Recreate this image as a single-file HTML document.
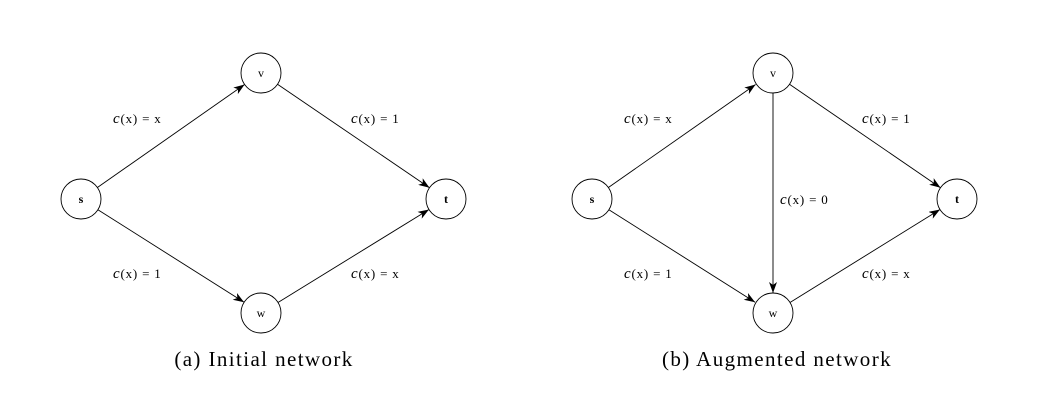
<!DOCTYPE html>
<html><head><style>
body{margin:0;background:#fff;}
svg{display:block;}
text{font-family:"Liberation Serif",serif;fill:#000;}
.l{font-size:13px;letter-spacing:0.8px;}
.n{font-size:12px;}
.c{font-size:21px;letter-spacing:1.4px;}
</style></head><body>
<svg width="1038" height="403" viewBox="0 0 1038 403">
<defs>
<marker id="a" markerWidth="12" markerHeight="8" refX="11" refY="4" orient="auto" markerUnits="userSpaceOnUse">
<path d="M0,0 L11,4 L0,8 L3,4 Z" fill="#000"/>
</marker>
</defs>
<g fill="none" stroke="#000" stroke-width="0.9">
<circle cx="81" cy="199" r="20"/><circle cx="261" cy="73" r="20"/><circle cx="261" cy="313" r="20"/><circle cx="446" cy="199" r="20"/>
<circle cx="592" cy="199" r="20"/><circle cx="773" cy="73" r="20"/><circle cx="773" cy="313" r="20"/><circle cx="957" cy="199" r="20"/>
<g marker-end="url(#a)">
<line x1="97.4" y1="187.5" x2="244.6" y2="84.5"/>
<line x1="277.5" y1="84.3" x2="429.5" y2="187.7"/>
<line x1="97.9" y1="209.7" x2="244.1" y2="302.3"/>
<line x1="278" y1="302.5" x2="429" y2="209.5"/>
<line x1="608.4" y1="187.5" x2="755.6" y2="84.5"/>
<line x1="789.5" y1="84.3" x2="940.5" y2="187.7"/>
<line x1="608.9" y1="209.7" x2="755.1" y2="302.3"/>
<line x1="790" y1="302.5" x2="940" y2="209.5"/>
<line x1="773" y1="93" x2="773" y2="293"/>
</g>
</g>
<g class="n" text-anchor="middle">
<text x="81" y="203" font-weight="bold">s</text><text x="261" y="77">v</text><text x="261" y="317">w</text><text x="446" y="203" font-weight="bold">t</text>
<text x="592" y="203" font-weight="bold">s</text><text x="773" y="77">v</text><text x="773" y="317">w</text><text x="957" y="203" font-weight="bold">t</text>
</g>
<g class="l">
<text x="113" y="123"><tspan font-style="italic" font-size="15">c</tspan>(x) = x</text>
<text x="351" y="123"><tspan font-style="italic" font-size="15">c</tspan>(x) = 1</text>
<text x="113" y="278"><tspan font-style="italic" font-size="15">c</tspan>(x) = 1</text>
<text x="351" y="278"><tspan font-style="italic" font-size="15">c</tspan>(x) = x</text>
<text x="624" y="123"><tspan font-style="italic" font-size="15">c</tspan>(x) = x</text>
<text x="862" y="123"><tspan font-style="italic" font-size="15">c</tspan>(x) = 1</text>
<text x="624" y="278"><tspan font-style="italic" font-size="15">c</tspan>(x) = 1</text>
<text x="862" y="278"><tspan font-style="italic" font-size="15">c</tspan>(x) = x</text>
<text x="780" y="204"><tspan font-style="italic" font-size="15">c</tspan>(x) = 0</text>
</g>
<g class="c" text-anchor="middle">
<text x="264" y="366">(a) Initial network</text>
<text x="777" y="366">(b) Augmented network</text>
</g>
</svg>
</body></html>
